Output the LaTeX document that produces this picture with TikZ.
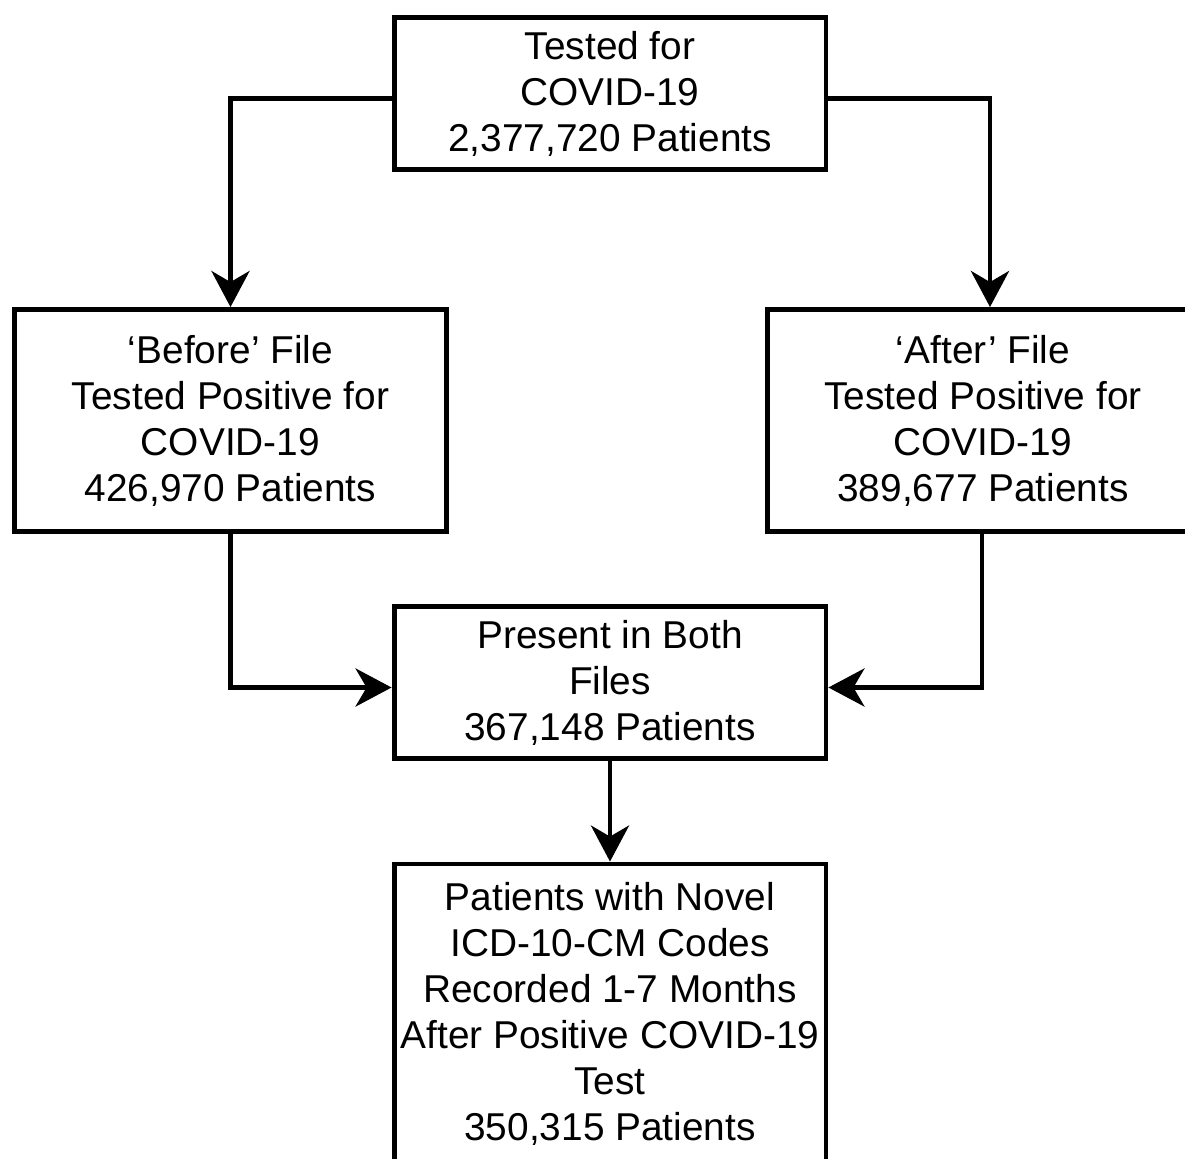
\documentclass[tikz,border=0pt]{standalone}
\usepackage{fontspec}
\setmainfont{Liberation Sans}
\usetikzlibrary{arrows.meta}

\begin{document}
\begin{tikzpicture}[x=0.02cm, y=-0.02cm, line width=2.8pt, >={Stealth[length=0.72cm,width=0.76cm,inset=0.22cm]},main node/.style={rectangle,draw,align=center,minimum width=8.64cm,inner sep=0pt,font=\fontsize{22.1pt}{26.2pt}\selectfont}]
\useasboundingbox (0,0) rectangle (1185,1158);
\begin{scope}
\node[main node, minimum height=3.04cm] (tested) at (610,93.5) {Tested for\\COVID-19\\2,377,720 Patients};%top
\node[main node, minimum height=4.44cm] (before) at (230.5,420.5) {‘Before’ File\\Tested Positive for\\COVID-19\\426,970 Patients};%left
\node[main node, minimum height=4.44cm] (after) at (983,420.5) {‘After’ File\\Tested Positive for\\COVID-19\\389,677 Patients};%right
\node[main node, minimum height=3.04cm] (both) at (610,682.5) {Present in Both\\Files\\367,148 Patients};%middle
\node[main node, minimum height=6.0cm] (novel) at (610,1014) {Patients with Novel\\ICD-10-CM Codes\\Recorded 1-7 Months\\After Positive COVID-19\\Test\\350,315 Patients};%bottom
\end{scope}
\begin{scope}
\draw[->] ([yshift=-0.1cm]tested.west) -| (before.north);
\draw[->] ([yshift=-0.1cm]tested.east) -| ([xshift=0.14cm]after.north);
\draw[->] (before.south) |- ([yshift=-0.1cm]both.west);
\draw[->] ([xshift=-0.02cm]after.south) |- ([yshift=-0.1cm]both.east);
\draw[->] (both) -- (novel);
\end{scope}
\end{tikzpicture}
\end{document}
